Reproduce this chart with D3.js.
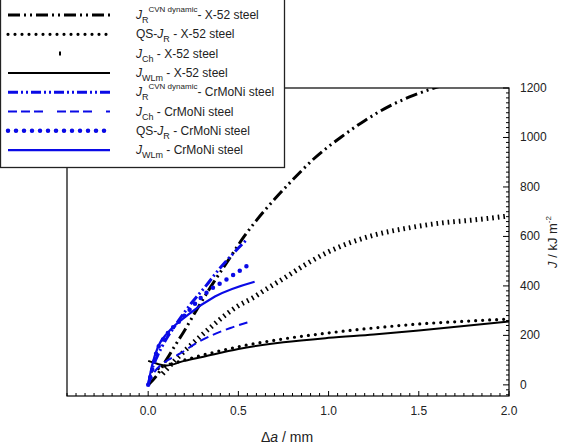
<!DOCTYPE html>
<html>
<head>
<meta charset="utf-8">
<script src="https://cdn.jsdelivr.net/npm/d3@7"></script>
<style>
  html, body { margin: 0; padding: 0; background: #fff; }
  svg { display: block; font-family: "Liberation Sans", Arial, sans-serif; }
</style>
</head>
<body>
<svg id="chart" width="566" height="444"></svg>
<script>
// Curves: [Δa in mm, J in kJ/m²]
const jrCvnX52 = [[0, 0], [0.05, 40], [0.1, 100], [0.15, 160], [0.2, 218], [0.27, 305], [0.35, 400], [0.45, 510],
    [0.53, 598], [0.6, 665], [0.7, 750], [0.8, 828], [0.92, 915], [1.07, 1002], [1.2, 1068], [1.34, 1128],
    [1.47, 1170], [1.62, 1208]];
const qsX52 = [[0.02, 55], [0.1, 78], [0.2, 100], [0.3, 120], [0.5, 154], [0.75, 186], [1.0, 210], [1.25, 230],
    [1.5, 246], [1.75, 257], [2.0, 266]];
const jchX52 = [[0.08, 45], [0.15, 100], [0.25, 170], [0.35, 235], [0.45, 295], [0.5, 320], [0.58, 352], [0.65, 385],
    [0.75, 430], [0.88, 490], [1.0, 538], [1.25, 605], [1.44, 634], [1.62, 654], [1.81, 667], [2.0, 683]];
const jwlmX52 = [[0, 97], [0.05, 85], [0.1, 78], [0.2, 97], [0.3, 113], [0.5, 145], [0.75, 172], [1.0, 190],
    [1.25, 204], [1.5, 220], [1.75, 238], [2.0, 256]];

const jrCvnCr = [[0, 0], [0.02, 60], [0.05, 115], [0.1, 185], [0.15, 240], [0.24, 331], [0.32, 400], [0.39, 465],
    [0.47, 530], [0.55, 590]];
const jchCr = [[0, 0], [0.037, 54], [0.085, 88], [0.18, 128], [0.27, 170], [0.456, 230], [0.55, 252]];
const qsCr = [[0, 0], [0.02, 54], [0.045, 129], [0.1, 200], [0.18, 263], [0.22, 296], [0.33, 377], [0.43, 424], [0.555, 485]];
const jwlmCr = [[0, 0], [0.02, 74], [0.055, 155], [0.11, 212], [0.22, 283], [0.37, 357], [0.59, 417]];

const xTickValues = [0, 0.5, 1.0, 1.5, 2.0];
const yTickValues = [0, 200, 400, 600, 800, 1000, 1200];

const BLUE = '#0a0ae6';

const series = [
    { data: jrCvnX52, color: '#000', width: 3, dash: '12,4,2,4,2,4', cap: 'butt' },
    { data: qsX52, color: '#000', width: 3.2, dash: '0,7', cap: 'round' },
    { data: jchX52, color: '#000', width: 5, dash: '1.6,4', cap: 'butt' },
    { data: jwlmX52, color: '#000', width: 2, dash: null, cap: 'butt' },
    { data: jrCvnCr, color: BLUE, width: 3, dash: '10,3,2,3,2,3', cap: 'butt' },
    { data: jchCr, color: BLUE, width: 2, dash: '9,5', cap: 'butt' },
    { data: qsCr, color: BLUE, width: 4.5, dash: '0,8', cap: 'round' },
    { data: jwlmCr, color: BLUE, width: 2.2, dash: null, cap: 'butt' },
];

const svg = d3.select('#chart');
const box = { left: 67, right: 509, top: 88, bottom: 396 };

const x = d3.scaleLinear().domain([-0.45, 2.0]).range([box.left, box.right]);
const y = d3.scaleLinear().domain([-45, 1200]).range([box.bottom, box.top]);

svg.append('clipPath').attr('id', 'plot-clip')
    .append('rect')
    .attr('x', box.left).attr('y', box.top)
    .attr('width', box.right - box.left).attr('height', box.bottom - box.top);

// Frame
svg.append('rect')
    .attr('x', box.left).attr('y', box.top)
    .attr('width', box.right - box.left).attr('height', box.bottom - box.top)
    .attr('fill', 'none').attr('stroke', '#000').attr('stroke-width', 1.2);

// Bottom axis: ticks point inward
const xMinor = d3.range(-0.45, 2.0001, 0.05);
svg.append('g').selectAll('line').data(xMinor).join('line')
    .attr('x1', d => x(d)).attr('x2', d => x(d))
    .attr('y1', box.bottom)
    .attr('y2', d => box.bottom - (xTickValues.some(t => Math.abs(t - d) < 1e-6) ? 5 : 3))
    .attr('stroke', '#000').attr('stroke-width', 1);

svg.append('g').selectAll('text').data(xTickValues).join('text')
    .attr('x', d => x(d)).attr('y', box.bottom + 19)
    .attr('text-anchor', 'middle').attr('font-size', 12).attr('fill', '#222')
    .text(d => d.toFixed(1));

// Right axis: ticks point inward
const yMinor = d3.range(-40, 1200.001, 20);
svg.append('g').selectAll('line').data(yMinor).join('line')
    .attr('y1', d => y(d)).attr('y2', d => y(d))
    .attr('x1', box.right)
    .attr('x2', d => box.right - (d % 200 === 0 ? 6 : 3))
    .attr('stroke', '#000').attr('stroke-width', 1);

svg.append('g').selectAll('text').data(yTickValues).join('text')
    .attr('x', box.right + 11).attr('y', d => y(d) + 4)
    .attr('font-size', 12).attr('fill', '#222')
    .text(d => d);

// Curves
const line = d3.line()
    .x(d => x(d[0])).y(d => y(d[1]))
    .curve(d3.curveMonotoneX);

const curves = svg.append('g').attr('clip-path', 'url(#plot-clip)');
series.forEach(s => {
    curves.append('path')
        .datum(s.data)
        .attr('d', line)
        .attr('fill', 'none')
        .attr('stroke', s.color)
        .attr('stroke-width', s.width)
        .attr('stroke-linecap', s.cap)
        .attr('stroke-dasharray', s.dash);
});

// Axis titles
const xt = svg.append('text').attr('x', 287).attr('y', 442)
    .attr('text-anchor', 'middle').attr('font-size', 14).attr('fill', '#222');
xt.append('tspan').text('\u0394');
xt.append('tspan').attr('font-style', 'italic').text('a');
xt.append('tspan').text(' / mm');

const yt = svg.append('text')
    .attr('transform', `translate(557,${(box.top + box.bottom) / 2}) rotate(-90)`)
    .attr('text-anchor', 'middle').attr('font-size', 13).attr('fill', '#222');
yt.append('tspan').attr('font-style', 'italic').text('J');
yt.append('tspan').text(' / kJ m');
yt.append('tspan').attr('font-size', 8).attr('dy', -6).text('-2');

// Legend
const legend = svg.append('g');
legend.append('rect')
    .attr('x', 0.5).attr('y', -1).attr('width', 284).attr('height', 168.5)
    .attr('fill', '#fff').attr('stroke', '#222').attr('stroke-width', 1.3);

const rowY = d3.range(8).map(i => 15 + i * 19.3);
const labels = [
    ['J', 'R', 'CVN dynamic', '- X-52 steel', ''],
    ['J', 'R', '', ' - X-52 steel', 'QS-'],
    ['J', 'Ch', '', ' - X-52 steel', ''],
    ['J', 'WLm', '', ' - X-52 steel', ''],
    ['J', 'R', 'CVN dynamic', '- CrMoNi steel', ''],
    ['J', 'Ch', '', ' - CrMoNi steel', ''],
    ['J', 'R', '', ' - CrMoNi steel', 'QS-'],
    ['J', 'WLm', '', ' - CrMoNi steel', ''],
];

series.forEach((s, i) => {
    const ly = rowY[i];
    const x1 = i === 2 ? 59 : 8;
    const x2 = i === 2 ? 61 : 110;
    legend.append('line')
        .attr('x1', x1).attr('x2', x2).attr('y1', ly).attr('y2', ly)
        .attr('stroke', s.color)
        .attr('stroke-width', i === 2 ? 4 : s.width)
        .attr('stroke-linecap', s.cap)
        .attr('stroke-dasharray', i === 5 ? '9,4,9,4,9,14' : (i === 2 ? null : s.dash));

    const [main, sub, sup, rest, pre] = labels[i];
    const t = legend.append('text').attr('x', 136).attr('y', ly + 4)
        .attr('font-size', 12).attr('fill', '#222');
    if (pre) t.append('tspan').text(pre);
    t.append('tspan').attr('font-style', 'italic').text(main);
    t.append('tspan').attr('font-size', 9).attr('dy', 4).text(sub);
    if (sup) t.append('tspan').attr('font-size', 8).attr('dy', -11).text(sup);
    t.append('tspan').attr('dy', sup ? 7 : -4).text(rest);
});
</script>
</body>
</html>
